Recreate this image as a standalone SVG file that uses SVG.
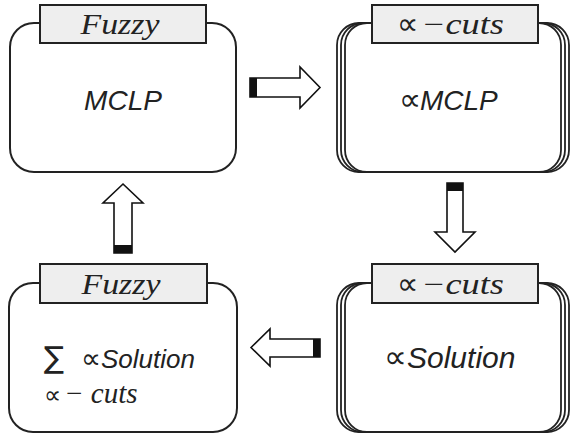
<svg xmlns="http://www.w3.org/2000/svg" width="576" height="435" viewBox="0 0 576 435">
<style>
.box{fill:#fff;stroke:#222;stroke-width:2}
.stk{fill:none;stroke:#222;stroke-width:1.8}
.tab{fill:#eeeeee;stroke:#222;stroke-width:2}
.tab-t{font-family:"Liberation Serif","DejaVu Serif",serif;font-style:italic;font-size:29px;fill:#222}
.sym{font-family:"DejaVu Sans",sans-serif;font-style:normal}
.main{font-family:"Liberation Sans","DejaVu Sans",sans-serif;font-style:italic;fill:#222}
.arr{fill:#fff;stroke:#111;stroke-width:1.6;stroke-linejoin:miter}
.blk{fill:#111}
</style>
<rect width="576" height="435" fill="#fff"/>
<g id="fuzzy-mclp">
<rect class="box" x="10" y="23" width="226" height="149" rx="24"/>
<rect class="tab" x="40" y="5" width="166" height="38"/>
<text class="tab-t" x="120" y="34" text-anchor="middle" textLength="79" lengthAdjust="spacingAndGlyphs">Fuzzy</text>
<text class="main" x="123" y="110" text-anchor="middle" font-size="28">MCLP</text>
</g>
<g id="alpha-mclp">
<rect class="stk" x="337" y="23" width="224" height="149" rx="22"/>
<rect class="stk" x="341" y="23" width="224" height="149" rx="22"/>
<rect class="stk" x="345" y="23" width="224" height="149" rx="22"/>
<rect class="tab" x="372" y="5" width="166" height="38"/>
<text class="tab-t" x="397" y="34"><tspan class="sym" font-size="30">∝</tspan><tspan x="421" textLength="83" lengthAdjust="spacingAndGlyphs">−cuts</tspan></text>
<text class="main" x="399" y="110" font-size="28"><tspan class="sym" font-size="31">∝</tspan><tspan x="420">MCLP</tspan></text>
</g>
<g id="alpha-solution">
<rect class="stk" x="337" y="283" width="224" height="149" rx="22"/>
<rect class="stk" x="341" y="283" width="224" height="149" rx="22"/>
<rect class="stk" x="345" y="283" width="224" height="149" rx="22"/>
<rect class="tab" x="372" y="264" width="166" height="39"/>
<text class="tab-t" x="397" y="294"><tspan class="sym" font-size="30">∝</tspan><tspan x="421" textLength="83" lengthAdjust="spacingAndGlyphs">−cuts</tspan></text>
<text class="main" x="384" y="368" font-size="30"><tspan class="sym" font-size="32">∝</tspan><tspan x="407">Solution</tspan></text>
</g>
<g id="fuzzy-sum">
<rect class="box" x="9" y="283" width="228" height="149" rx="24"/>
<rect class="tab" x="40" y="264" width="167" height="39"/>
<text class="tab-t" x="121" y="294" text-anchor="middle" textLength="79" lengthAdjust="spacingAndGlyphs">Fuzzy</text>
<text class="main" x="44" y="368" font-size="26"><tspan class="sym" font-size="30">∑</tspan><tspan x="81" class="sym" font-size="28">∝</tspan><tspan x="101">Solution</tspan></text>
<text class="tab-t" x="44" y="403" font-size="20"><tspan class="sym" font-size="24">∝</tspan><tspan x="64">− cuts</tspan></text>
</g>
<g id="connectors">
<polygon class="arr" points="250,78 300,78 300,67 320,87.5 300,108 300,97 250,97"/>
<rect class="blk" x="250" y="78" width="7" height="19"/>
<polygon class="arr" points="447,183 463,183 463,232 475,232 455,252 435,232 447,232"/>
<rect class="blk" x="447" y="183" width="16" height="8"/>
<polygon class="arr" points="123,184 143,203 132,203 132,253 114,253 114,203 103,203"/>
<rect class="blk" x="114" y="245" width="18" height="8"/>
<polygon class="arr" points="251,347.5 270,329 270,339 320,339 320,357 270,357 270,366"/>
<rect class="blk" x="313" y="339" width="7" height="18"/>
</g>
</svg>
